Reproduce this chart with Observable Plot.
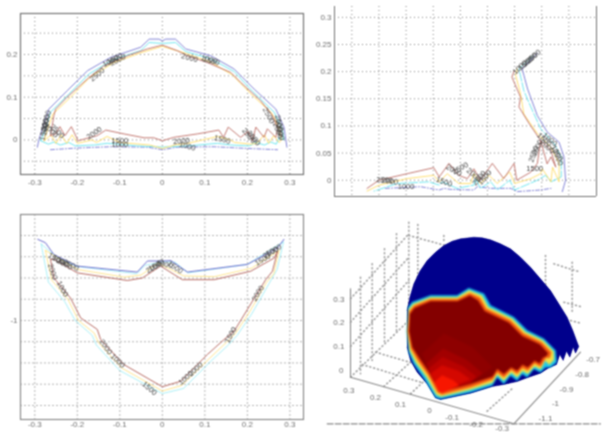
<!DOCTYPE html>
<html><head><meta charset="utf-8">
<script src="https://cdn.jsdelivr.net/npm/d3@7"></script>
<script src="https://cdn.jsdelivr.net/npm/@observablehq/plot@0.6"></script>
<style>
html,body{margin:0;padding:0;background:#fff}
#fig{position:relative;width:608px;height:432px;overflow:hidden;background:#fff}
#fig svg{position:absolute;display:block}
</style></head><body>
<svg width="0" height="0" style="position:absolute"><defs>
<filter id="soft" x="0" y="0" width="100%" height="100%" color-interpolation-filters="sRGB"><feConvolveMatrix order="3" kernelMatrix="1 2 1 2 4 2 1 2 1" divisor="16" preserveAlpha="false" edgeMode="none"/></filter>
<filter id="softer" x="0" y="0" width="100%" height="100%" color-interpolation-filters="sRGB"><feConvolveMatrix order="3" kernelMatrix="1 2 1 2 7 2 1 2 1" divisor="19" preserveAlpha="false" edgeMode="none"/></filter>
</defs></svg>
<div id="fig"></div>
<script>
const RED="#bd6c64",YEL="#ffdc66",CYA="#63e4ee",BLU="#7778d2";
/* top-left view */
const a_blue=[[-.294,-.017],[-.29,.002],[-.282,.026],[-.267,.072],[-.224,.115],[-.176,.162],[-.122,.193],[-.051,.217],[-.031,.236],[-.008,.236],[0,.232],[.008,.236],[.031,.236],[.055,.213],[.114,.197],[.169,.166],[.216,.119],[.267,.072],[.286,.03],[.293,-.017]];
const a_blueLow=[[-.263,-.023],[-.2,-.019],[-.122,-.016],[-.035,-.017],[0,-.023],[.035,-.017],[.122,-.016],[.2,-.02],[.271,-.023]];
const a_cyan=[[-.286,-.002],[-.275,.026],[-.263,.065],[-.22,.107],[-.173,.154],[-.118,.187],[-.051,.209],[-.031,.228],[0,.226],[.031,.228],[.055,.207],[.114,.19],[.169,.16],[.212,.114],[.263,.065],[.282,.026],[.286,0],[.275,.006],[.268,-.01],[.255,-.005],[.24,-.012],[.22,-.006],[.205,-.014],[.16,-.012],[.13,-.008],[.06,-.014],[0,-.017],[-.06,-.014],[-.13,-.008],[-.16,-.012],[-.205,-.014],[-.22,-.006],[-.24,-.012],[-.255,-.005],[-.268,-.01],[-.286,-.002]];
const a_yellow=[[-.278,-.002],[-.268,.03],[-.258,.06],[-.216,.1],[-.17,.147],[-.114,.181],[-.051,.204],[0,.219],[.051,.204],[.114,.182],[.165,.152],[.208,.108],[.258,.062],[.275,.025],[.28,0],[.275,-.006],[.262,.01],[.25,-.008],[.24,.012],[.222,-.008],[.208,-.01],[.17,-.006],[.16,0],[.13,.008],[.06,-.008],[.03,-.012],[0,-.02],[-.03,-.012],[-.1,-.006],[-.13,.008],[-.155,-.006],[-.165,0],[-.2,-.008],[-.212,.012],[-.225,-.008],[-.238,.012],[-.25,-.008],[-.262,.012],[-.278,-.002]];
const a_red=[[-.263,.01],[-.255,.057],[-.251,.072],[-.224,.1],[-.176,.143],[-.137,.174],[-.082,.197],[-.035,.213],[0,.222],[.035,.209],[.059,.197],[.106,.181],[.161,.158],[.184,.135],[.231,.092],[.259,.057],[.271,.026],[.267,.006],[.247,.026],[.239,.006],[.22,.03],[.212,-.002],[.202,.02],[.184,.006],[.155,.03],[.144,.006],[.133,.023],[.082,.014],[.027,.006],[0,-.002],[-.02,.005],[-.043,.005],[-.09,.014],[-.133,.023],[-.153,.01],[-.169,.006],[-.198,-.002],[-.214,.031],[-.229,.01],[-.241,.031],[-.251,.014],[-.263,.01]];
const a_labels=[[-.153,.153,"2500",-40],[-.122,.184,"1000",-28],[-.112,.19,"1500",-28],[-.105,.187,"2000",-28],[.064,.192,"2000",15],[.11,.188,"1000",15],[.115,.185,"1500",15],[.25,.057,"2500",62],[-.276,.03,"1000",-80],[-.279,.018,"1500",-75],[-.275,.04,"2000",-75],[-.272,.05,"2500",-75],[.275,.03,"1000",80],[.277,.018,"1500",75],[.275,.04,"2000",75],[.272,.022,"2500",70],[-.247,.02,"2500",45],[-.262,.022,"2000",45],[-.16,.016,"2000",-35],[-.1,-.002,"1500",0],[-.1,-.011,"1000",0],[.045,-.003,"2000",-5],[.059,-.015,"1000",15],[.141,.001,"1500",15],[.204,.01,"2500",50],[.215,.004,"2000",50]];
/* top-right view */
const b_blue=[[-.858,.234],[-.886,.205],[-.876,.168],[-.858,.119],[-.84,.089],[-.818,.07],[-.809,.043],[-.806,0],[-.812,-.021]];
const b_blueLow=[[-1.138,-.015],[-1.073,-.012],[-1.039,-.018],[-1.03,-.015],[-1.018,-.017],[-.975,-.018],[-.969,-.012],[-.944,-.015],[-.907,-.015],[-.895,-.021],[-.852,-.018],[-.833,-.015]];
const b_cyan=[[-.867,.229],[-.892,.205],[-.883,.165],[-.87,.135],[-.852,.095],[-.827,.067],[-.814,.043],[-.814,.006],[-.833,-.003],[-.843,.009],[-.858,0],[-.9,-.018],[-.909,0],[-.932,-.018],[-.944,-.003],[-.963,-.015],[-.972,.003],[-.975,-.009],[-1.006,-.015],[-1.033,-.003],[-1.039,-.009],[-1.058,-.003],[-1.116,-.006],[-1.159,-.02]];
const b_yellow=[[-.895,.205],[-.898,.193],[-.889,.159],[-.883,.122],[-.858,.086],[-.833,.061],[-.818,.031],[-.818,-.003],[-.83,.024],[-.833,-.003],[-.849,.021],[-.852,.012],[-.87,.003],[-.9,-.006],[-.909,.015],[-.932,-.006],[-.947,.009],[-.963,-.006],[-.975,.012],[-.981,-.006],[-1.003,-.006],[-1.024,.012],[-1.039,-.003],[-1.049,.009],[-1.098,.003],[-1.15,-.009],[-1.172,-.02]];
const b_red=[[-.901,.201],[-.905,.19],[-.889,.153],[-.892,.135],[-.873,.104],[-.852,.073],[-.833,.055],[-.824,.024],[-.833,.043],[-.84,.03],[-.852,.073],[-.858,.031],[-.87,.015],[-.896,0],[-.901,.031],[-.92,.003],[-.941,.031],[-.963,0],[-.975,.021],[-.987,.003],[-1.003,.009],[-1.021,.031],[-1.039,.006],[-1.049,.023],[-1.098,.012],[-1.15,0],[-1.172,-.015]];
const b_labels=[[-.89,.208,"1000",-42],[-.88,.215,"1500",-42],[-.872,.222,"2000",-42],[-.865,.228,"2500",-42],[-.835,.075,"1000",40],[-.845,.075,"1500",40],[-.84,.062,"2000",40],[-.822,.05,"1000",60],[-.82,.042,"1500",70],[-.865,.048,"2500",-70],[-.858,.06,"2000",-65],[-.863,.022,"1500",0],[-1.1,-.011,"1000",0],[-1.13,-.002,"2000",8],[-1.14,0,"2500",5],[-1.03,-.003,"1500",20],[-1.0,.022,"2500",-30],[-1.012,.018,"2000",30],[-.975,.01,"2000",40],[-.955,.005,"1500",-50],[-.965,.004,"2500",-50]];
/* bottom-left view */
const c_blue=[[-.293,-.809],[-.275,-.817],[-.255,-.845],[-.2,-.872],[-.059,-.886],[-.035,-.86],[0,-.86],[.02,-.859],[.059,-.886],[.2,-.868],[.271,-.829],[.286,-.809]];
const c_cyan=[[-.285,-.82],[-.25,-.85],[-.2,-.873],[-.06,-.89],[-.04,-.87],[0,-.862],[.03,-.863],[.06,-.888],[.2,-.868],[.26,-.83],[.285,-.815],[.27,-.88],[.25,-.915],[.21,-.985],[.176,-1.035],[.155,-1.058],[.115,-1.095],[.05,-1.16],[0,-1.172],[-.1,-1.118],[-.155,-1.058],[-.165,-1.035],[-.205,-1],[-.23,-.955],[-.268,-.91],[-.285,-.82]];
const c_yellow=[[-.275,-.835],[-.2,-.88],[-.09,-.898],[-.05,-.893],[-.01,-.865],[.05,-.895],[.122,-.897],[.21,-.877],[.275,-.835],[.262,-.89],[.245,-.91],[.205,-.98],[.172,-1.03],[.15,-1.052],[.11,-1.09],[.045,-1.153],[0,-1.166],[-.095,-1.112],[-.15,-1.052],[-.16,-1.03],[-.197,-1],[-.222,-.95],[-.26,-.905],[-.275,-.835]];
const c_red=[[-.255,-.856],[-.2,-.888],[-.082,-.906],[-.047,-.9],[-.004,-.872],[.047,-.904],[.122,-.904],[.208,-.884],[.263,-.853],[.271,-.837],[.259,-.884],[.243,-.904],[.2,-.974],[.169,-1.025],[.145,-1.045],[.106,-1.08],[.043,-1.143],[0,-1.156],[-.09,-1.104],[-.145,-1.045],[-.153,-1.021],[-.192,-.994],[-.216,-.947],[-.255,-.9],[-.263,-.856],[-.255,-.856]];
const c_labels=[[-.23,-.867,"2000",28],[-.25,-.855,"1500",28],[-.24,-.86,"1000",28],[-.235,-.926,"1000",62],[-.258,-.885,"2000",72],[-.133,-1.062,"2000",55],[-.105,-1.095,"1000",45],[-.03,-1.16,"1500",42],[.055,-1.135,"1000",-42],[.078,-1.115,"2000",-42],[.161,-1.034,"1500",-62],[.225,-.936,"2000",-60],[.236,-.857,"1500",-30],[.262,-.835,"1000",-30],[-.02,-.875,"2000",-30],[.03,-.875,"1500",35],[.005,-.868,"1000",10],[-.014,-.87,"1500",-30],[.255,-.84,"2500",-30],[-.215,-.87,"2500",28]];
/* bottom-right view: projected plane of the 3-D camera */
const d_dome=[[290,270],[298,230],[310,190],[328,152],[350,120],[375,95],[400,75],[425,62],[450,55],[490,50],[515,52],[540,58],[570,70],[600,85],[630,110],[660,140],[690,175],[720,210],[745,250],[770,290],[787,330],[800,365],[805,378],[795,398],[788,380],[778,410],[768,392],[758,420],[748,402],[738,432],[715,442],[690,458],[650,472],[620,483],[580,492],[545,498],[480,518],[390,537],[375,532],[350,490],[320,455],[300,420],[290,380]];
const d_cyan=[[292,262],[305,245],[360,225],[440,225],[475,203],[520,220],[540,255],[610,290],[650,330],[700,355],[735,390],[738,425],[720,440],[705,440],[690,455],[670,445],[650,470],[635,460],[620,480],[600,465],[580,490],[560,470],[545,495],[480,515],[390,535],[375,530],[345,480],[310,430],[295,395],[288,330]];
const d_yellow=[[294,268],[308,251],[360,231],[440,231],[476,210],[514,226],[533,260],[605,295],[645,335],[697,360],[729,393],[730,418],[716,432],[704,420],[690,446],[672,437],[652,460],[636,451],[620,470],[602,456],[580,480],[560,462],[546,486],[480,507],[392,528],[378,522],[350,472],[316,425],[298,390],[290,330]];
const d_orange=[[296,274],[311,256],[360,236],[441,236],[478,218],[508,232],[527,265],[600,300],[640,340],[693,365],[722,395],[718,412],[706,412],[690,438],[672,428],[652,450],[636,442],[620,460],[602,448],[580,470],[560,455],[546,477],[480,500],[394,522],[381,515],[354,465],[322,420],[302,385],[292,330]];
const d_dark=[[298,282],[312,263],[360,243],[441,243],[478,226],[502,240],[522,272],[595,307],[635,347],[688,372],[712,398],[708,406],[696,412],[688,428],[672,420],[652,440],[636,432],[620,450],[602,440],[580,460],[560,445],[546,468],[480,490],[396,512],[384,505],[358,458],[328,415],[306,380],[296,330]];
const d_mid=[[335,400],[400,340],[485,380],[545,440],[480,488],[396,510],[384,505],[358,458]];
const d_warm=[[348,430],[398,385],[470,420],[515,458],[480,486],[396,511],[384,505],[362,462]];
const d_warm2=[[354,445],[396,410],[458,438],[497,468],[480,486],[396,511],[384,505],[364,468]];
const d_hot=[[360,460],[395,435],[445,452],[478,476],[396,512],[384,505]];
const d_bright=[[372,485],[395,465],[428,480],[445,495],[396,516],[385,512]];
const d_axes=[[[120,205],[120,470],[610,610],[810,395]]];
const d_grid=[[[150,170],[150,460]],[[185,130],[185,420]],[[222,85],[222,370]],[[258,40],[258,335]],[[295,5],[295,300]],[[322,12],[322,310]],[[400,45],[400,60]],[[705,105],[705,210]],[[785,125],[785,280]],[[120,235],[295,40]],[[120,305],[295,110]],[[120,378],[295,180]],[[120,470],[295,300]],[[220,498],[360,370]],[[300,520],[385,440]],[[195,395],[320,432]],[[155,432],[330,485]],[[295,45],[405,75]],[[730,130],[810,155]],[[760,245],[810,258]],[[780,300],[810,308]],[[530,572],[610,500]]];
const d_dashes=[[50,610],[870,610]];
const d_labels=[[85,237,"0.3"],[85,307,"0.2"],[85,378,"0.1"],[92,449,"0"],[115,510,"0.3"],[195,530,"0.2"],[270,553,"0.1"],[357,570,"0"],[425,592,"-0.1"],[497,612,"-0.2"],[575,624,"-0.3"],[848,418,"-0.7"],[815,462,"-0.8"],[768,507,"-0.9"],[735,550,"-1"],[705,595,"-1.1"]];
const xTicks=[-.3,-.2,-.1,0,.1,.2,.3];

const px=d=>d[0],py=d=>d[1];
const FONT='"Liberation Sans",Arial,sans-serif';
const TXT="#6e6e6e",AX="#757575";
const contour=(arr,stroke,o={})=>Plot.line(arr,{x:px,y:py,stroke,strokeWidth:.9,...o});
const labels=(arr,o={})=>Plot.text(arr,{x:px,y:py,text:d=>d[2],rotate:d=>d[3],fill:"#444",fontSize:7.5,...o});
function place(svg,left,top,filter){
  svg.style.left=left+"px";svg.style.top=top+"px";svg.style.filter=filter;svg.style.maxWidth="none";
  document.getElementById("fig").appendChild(svg);
}
const base=o=>({style:{background:"transparent",fontFamily:FONT,fontSize:"8px"},...o});
const grid=(xt,yt,o={})=>[
  Plot.gridX(xt,{stroke:"#777",strokeOpacity:1,strokeWidth:.9,strokeDasharray:"1,3",...o}),
  Plot.gridY(yt,{stroke:"#777",strokeOpacity:1,strokeWidth:.9,strokeDasharray:"1,3",...o})
];

/* panel 1 */
place(Plot.plot(base({width:310,height:195,marginLeft:20,marginRight:7,marginTop:13,marginBottom:21,
  x:{domain:[-.3336,.332]},y:{domain:[-.081,.296]},
  marks:[
    ...grid(xTicks,[-.05,0,.05,.1,.15,.2,.25]),
    Plot.axisX(xTicks,{tickFormat:d=>String(d),tickSize:0,tickPadding:5,color:TXT,label:null}),
    Plot.axisY([0,.1,.2],{tickFormat:d=>String(d),tickSize:0,tickPadding:3,color:TXT,label:null}),
    contour(a_blue,BLU),
    contour(a_blueLow,BLU,{strokeDasharray:"4,2,1,2"}),
    contour(a_cyan,CYA),contour(a_yellow,YEL),contour(a_red,RED),
    labels(a_labels),
    Plot.frame({stroke:AX,strokeWidth:1.2})
  ]})),0,0,"url(#soft)");

/* panel 2 */
const b_xgrid=[-1.2,-1.15,-1.1,-1.05,-1,-.95,-.9,-.85,-.8];
place(Plot.plot(base({width:298,height:205,marginLeft:24,marginRight:12,marginTop:6,marginBottom:9,
  x:{domain:[-1.232,-.749]},y:{domain:[-.03,.32]},
  marks:[
    ...grid(b_xgrid,[0,.05,.1,.15,.2,.25,.3]),
    Plot.axisX({ticks:[],label:null}),
    Plot.axisY([0,.05,.1,.15,.2,.25,.3],{tickFormat:d=>String(d),tickSize:0,tickPadding:3,color:TXT,label:null}),
    contour(b_blue,BLU),
    contour(b_blueLow,BLU,{strokeDasharray:"4,2,1,2"}),
    contour(b_cyan,CYA,{strokeDasharray:"9,2"}),contour(b_yellow,YEL),contour(b_red,RED),
    labels(b_labels),
    Plot.ruleX([-1.232,-.749],{stroke:AX,strokeWidth:1}),
    Plot.ruleY([-.03],{stroke:AX,strokeWidth:1.2})
  ]})),310,0,"url(#soft)");

/* panel 3 */
place(Plot.plot(base({width:310,height:227,marginLeft:20,marginRight:7,marginTop:9,marginBottom:13,
  x:{domain:[-.3336,.332]},y:{domain:[-1.233,-.7506]},
  marks:[
    ...grid(xTicks,[-.8,-.85,-.9,-.95,-1,-1.05,-1.1,-1.15,-1.2],{stroke:"#999",strokeDasharray:"2,2",strokeOpacity:.8}),
    Plot.axisX(xTicks,{tickFormat:d=>String(d),tickSize:0,tickPadding:2,color:TXT,label:null}),
    Plot.axisY([-1],{tickFormat:d=>String(d),tickSize:0,tickPadding:3,color:TXT,label:null}),
    contour(c_cyan,CYA,{strokeOpacity:.6}),
    contour(c_blue,"#5f60c8"),
    contour(c_yellow,YEL,{strokeOpacity:.8}),contour(c_red,"#b05c54"),
    labels(c_labels),
    Plot.frame({stroke:"#8a8a8a",strokeWidth:1.2})
  ]})),0,205,"url(#soft)");

/* panel 4, axes layer */
const planeScales={x:{domain:[0,894],axis:null},y:{domain:[636,0],axis:null}};
place(Plot.plot(base({width:298,height:212,margin:0,...planeScales,
  marks:[
    ...d_grid.map(s=>Plot.line(s,{x:px,y:py,stroke:"#999",strokeDasharray:"1,3"})),
    ...d_axes.map(s=>Plot.line(s,{x:px,y:py,stroke:"#888",strokeWidth:1.1})),
    Plot.line(d_dashes,{x:px,y:py,stroke:"#888",strokeWidth:1.1,strokeDasharray:"6,2"}),
    Plot.text(d_labels,{x:px,y:py,text:d=>d[2],fill:TXT,fontSize:8})
  ]})),310,220,"url(#soft)");

/* panel 4, coloured surface layer */
const surf=(arr,c)=>Plot.line(arr,{x:px,y:py,fill:c,stroke:c,strokeWidth:.5});
place(Plot.plot(base({width:298,height:212,margin:0,...planeScales,
  marks:[surf(d_dome,"#00008c")]})),310,220,"url(#softer)");
place(Plot.plot(base({width:298,height:212,margin:0,...planeScales,
  marks:[
    surf(d_cyan,"#1fc8e8"),
    surf(d_yellow,"#f5e040"),
    surf(d_orange,"#f55a10"),
    surf(d_dark,"#840000"),
    surf(d_mid,"#8e0000"),
    surf(d_warm,"#a20000"),
    surf(d_warm2,"#b80200"),
    surf(d_hot,"#d40800"),
    surf(d_bright,"#f81600")
  ]})),310,220,"blur(.85px)");
</script></body></html>
